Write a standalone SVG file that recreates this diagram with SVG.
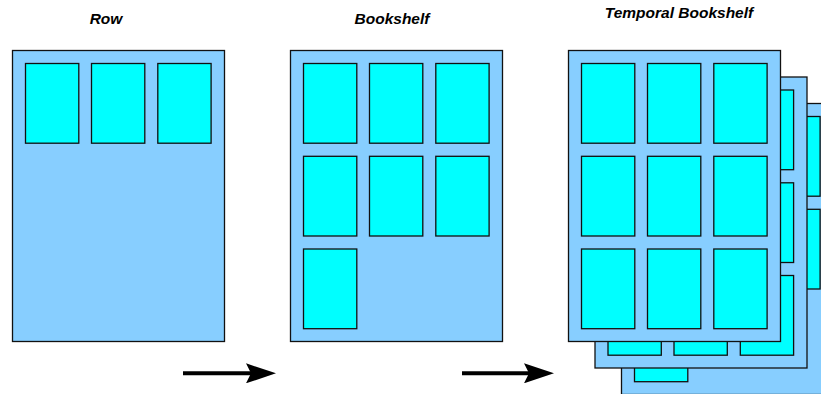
<svg xmlns="http://www.w3.org/2000/svg" xmlns:xlink="http://www.w3.org/1999/xlink" width="821" height="394" viewBox="0 0 821 394">
  <style>
    .title { font-family: "Liberation Sans", Arial, sans-serif; font-size: 15.5px; font-weight: bold; font-style: italic; fill: #000; text-anchor: middle; }
    .panel { fill: #87CEFF; stroke: #111; stroke-width: 1.3; }
    .cell { fill: #00FFFF; stroke: #111; stroke-width: 1.3; }
    .arrow { stroke: #000; stroke-width: 4; fill: none; }
  </style>
  <defs>
    <marker id="head" markerUnits="userSpaceOnUse" viewBox="0 0 30 20" refX="16" refY="10" markerWidth="30" markerHeight="20" orient="auto">
      <path d="M0,0 L30,10 L0,20 L5,10 Z" fill="#000"/>
    </marker>
    <!-- shelf with seven books, origin at panel top-left -->
    <g id="shelf7">
      <rect class="panel" x="0" y="0" width="212" height="291"/>
      <rect class="cell" x="13" y="13" width="53.3" height="79.7"/>
      <rect class="cell" x="79" y="13" width="53.3" height="79.7"/>
      <rect class="cell" x="145.3" y="13" width="53.3" height="79.7"/>
      <rect class="cell" x="13" y="105.8" width="53.3" height="79.7"/>
      <rect class="cell" x="79" y="105.8" width="53.3" height="79.7"/>
      <rect class="cell" x="145.3" y="105.8" width="53.3" height="79.7"/>
      <rect class="cell" x="13" y="198.5" width="53.3" height="79.7"/>
    </g>
    <!-- full 3x3 shelf -->
    <g id="shelf9">
      <use xlink:href="#shelf7"/>
      <rect class="cell" x="79" y="198.5" width="53.3" height="79.7"/>
      <rect class="cell" x="145.3" y="198.5" width="53.3" height="79.7"/>
    </g>
  </defs>

  <!-- Row -->
  <g id="row">
    <text class="title" x="106" y="24">Row</text>
    <rect class="panel" x="12.5" y="50.5" width="212" height="291"/>
    <rect class="cell" x="25.5" y="63.5" width="53.3" height="79.7"/>
    <rect class="cell" x="91.5" y="63.5" width="53.3" height="79.7"/>
    <rect class="cell" x="157.8" y="63.5" width="53.3" height="79.7"/>
  </g>

  <!-- Bookshelf -->
  <g id="bookshelf">
    <text class="title" x="392" y="23.5">Bookshelf</text>
    <use xlink:href="#shelf7" x="290.5" y="50.5"/>
  </g>

  <!-- Temporal Bookshelf: three stacked shelves, oldest at the back -->
  <g id="temporal-bookshelf">
    <text class="title" x="679" y="18.3">Temporal Bookshelf</text>
    <use xlink:href="#shelf7" x="621.5" y="103.5"/>
    <use xlink:href="#shelf9" x="595" y="77"/>
    <use xlink:href="#shelf9" x="568.5" y="50.5"/>
  </g>

  <!-- connectors -->
  <g id="connectors">
    <line class="arrow" x1="183" y1="373.3" x2="262" y2="373.3" marker-end="url(#head)"/>
    <line class="arrow" x1="462" y1="373.3" x2="540" y2="373.3" marker-end="url(#head)"/>
  </g>
</svg>
